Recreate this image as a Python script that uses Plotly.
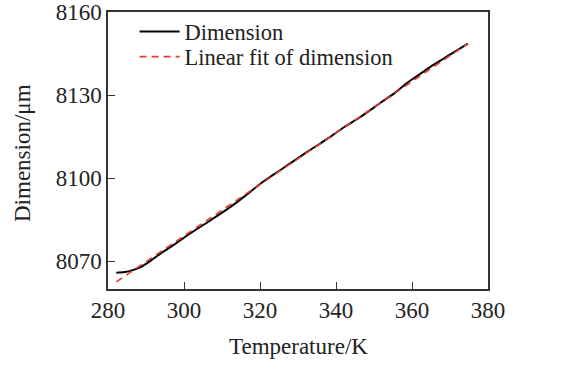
import plotly.graph_objects as go

# Measured dimension curve
temperature_K = [282.2, 284.4, 286.5, 288.7, 291.0, 293.2, 297.5, 301.9, 306.3, 310.7,
                 313.7, 317.0, 320.9, 325.0, 329.7, 334.0, 338.4, 342.0, 346.3, 352.0,
                 355.5, 358.6, 362.0, 365.6, 370.0, 374.7]
dimension_um = [8065.9, 8066.1, 8066.8, 8068.0, 8070.0, 8072.2, 8076.1, 8080.3, 8084.2, 8088.2,
                8091.1, 8094.6, 8098.8, 8102.6, 8107.0, 8110.9, 8114.8, 8118.3, 8122.0, 8127.5,
                8130.8, 8134.3, 8137.5, 8140.9, 8144.6, 8148.6]

# Linear fit endpoints
fit_T = [282.2, 374.7]
fit_D = [8062.6, 8148.6]

x_ticks = [280, 300, 320, 340, 360, 380]
y_ticks = [8070, 8100, 8130, 8160]

FONT = "Liberation Serif, Times New Roman, serif"
TXT = "#222222"

fig = go.Figure()
fig.add_trace(go.Scatter(x=temperature_K, y=dimension_um, mode="lines",
                         name="Dimension",
                         line=dict(color="black", width=2, shape="spline", smoothing=0.8),
                         legend="legend"))
fig.add_trace(go.Scatter(x=fit_T, y=fit_D, mode="lines", name="Linear fit of dimension",
                         line=dict(color="#e8392c", width=1.6, dash="7px,5px"),
                         legend="legend2"))

axis_common = dict(showline=True, linecolor="#333333", linewidth=1.5, mirror=True,
                   ticks="inside", ticklen=7, tickwidth=1.2, tickcolor="#333333",
                   showgrid=False, zeroline=False, automargin=False,
                   ticklabeloverflow="allow",
                   tickfont=dict(family=FONT, size=23, color=TXT))

fig.update_xaxes(range=[280, 380], tickvals=x_ticks, **axis_common)
fig.update_yaxes(range=[8060, 8160], tickvals=y_ticks, **axis_common)

leg_common = dict(xanchor="left", yanchor="middle", bgcolor="rgba(0,0,0,0)", borderwidth=0,
                  font=dict(family=FONT, size=22.5, color=TXT), itemwidth=40)

fig.update_layout(
    width=586, height=369,
    margin=dict(l=108, r=98, t=11, b=80),
    paper_bgcolor="white", plot_bgcolor="white",
    font=dict(family=FONT, size=23, color=TXT),
    showlegend=True,
    legend=dict(x=0.07, y=0.9245, **leg_common),
    legend2=dict(x=0.07, y=0.8345, **leg_common),
    annotations=[
        dict(text="Temperature/K", xref="paper", yref="paper", x=0.5, y=-0.2076,
             xanchor="center", yanchor="middle", showarrow=False,
             font=dict(family=FONT, size=23, color=TXT)),
        dict(text="Dimension/μm", xref="paper", yref="paper", x=-0.2237, y=0.491,
             xanchor="center", yanchor="middle", textangle=-90, showarrow=False,
             font=dict(family=FONT, size=23, color=TXT)),
    ],
)

fig.write_html("out.html", config={"displayModeBar": False},
               post_script="document.body.style.margin='0';")
